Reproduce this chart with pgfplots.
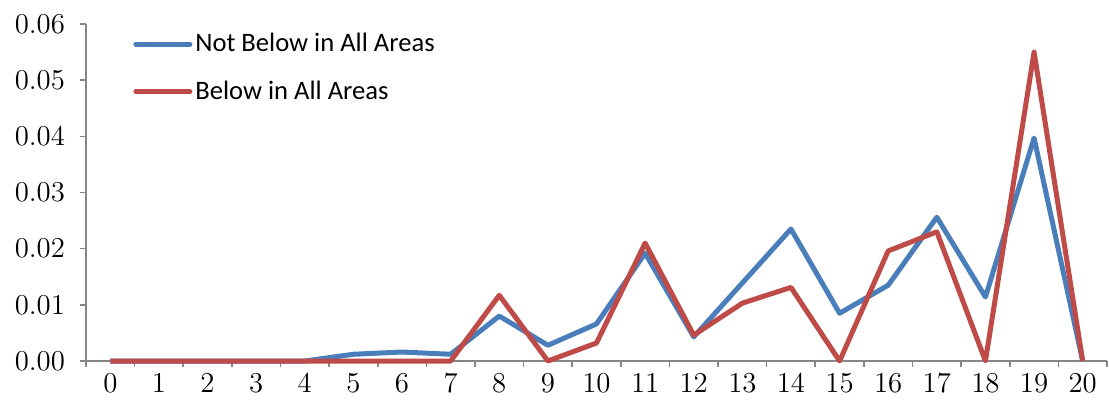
\documentclass[border=0pt]{standalone}
\usepackage{pgfplots}
\pgfplotsset{compat=1.18}
\usepackage{fontspec}
\setmainfont{Carlito}
\definecolor{sblue}{RGB}{74,126,187}
\definecolor{sred}{RGB}{190,75,72}
\definecolor{axgray}{RGB}{134,134,134}
\pgfplotstableread{
x nb b
0 0 0
1 0 0
2 0 0
3 0 0
4 0 0
5 0.0012 0
6 0.0016 0
7 0.0012 0
8 0.0080 0.0117
9 0.0028 0
10 0.0066 0.0032
11 0.0192 0.0210
12 0.0043 0.0046
13 0.0139 0.0103
14 0.0235 0.0131
15 0.0085 0
16 0.0135 0.0196
17 0.0256 0.0230
18 0.0114 0
19 0.0397 0.0550
20 0 0
}\datatable
\begin{document}
\begin{tikzpicture}
\begin{axis}[
  at={(0,0)}, anchor=south west,
  scale only axis, width=510.5pt, height=168.5pt,
  xmin=-0.5, xmax=20.5, ymin=0, ymax=0.06,
  axis x line*=bottom, axis y line*=left,
  axis line style={axgray, line width=0.8pt, -},
  xtick={0,...,20},
  major x tick style={draw=none},
  minor xtick={-0.5,0.5,...,20.5},
  minor tick length=3pt,
  minor x tick style={axgray, line width=0.8pt},
  ytick={0,0.01,0.02,0.03,0.04,0.05,0.06},
  major tick length=3pt,
  major y tick style={axgray, line width=0.8pt},
  tick align=outside,
  yticklabel style={/pgf/number format/fixed, /pgf/number format/fixed zerofill, /pgf/number format/precision=2, font=\fontsize{13.5}{15}\selectfont, xshift=-4pt},
  xticklabel style={font=\fontsize{13.5}{15}\selectfont},
  scaled y ticks=false,
  legend style={draw=none, fill=none, at={(0.046,0.985)}, anchor=north west, font=\fontsize{13.3}{15}\selectfont, row sep=9pt, inner sep=0pt, nodes={inner xsep=1.5pt}},
  legend cell align=left,
  legend image code/.code={\draw[#1, line cap=round] (0pt,0pt) -- (27pt,0pt);},
  clip=false,
]
\addplot[sblue, line width=2.5pt, line join=round] table[x=x, y=nb] {\datatable};
\addlegendentry{Not Below in All Areas}
\addplot[sred, line width=2.5pt, line join=round] table[x=x, y=b] {\datatable};
\addlegendentry{Below in All Areas}
\end{axis}
\pgfresetboundingbox
\path (-43pt,-24pt) rectangle (511.5pt,180.5pt);
\end{tikzpicture}
\end{document}
